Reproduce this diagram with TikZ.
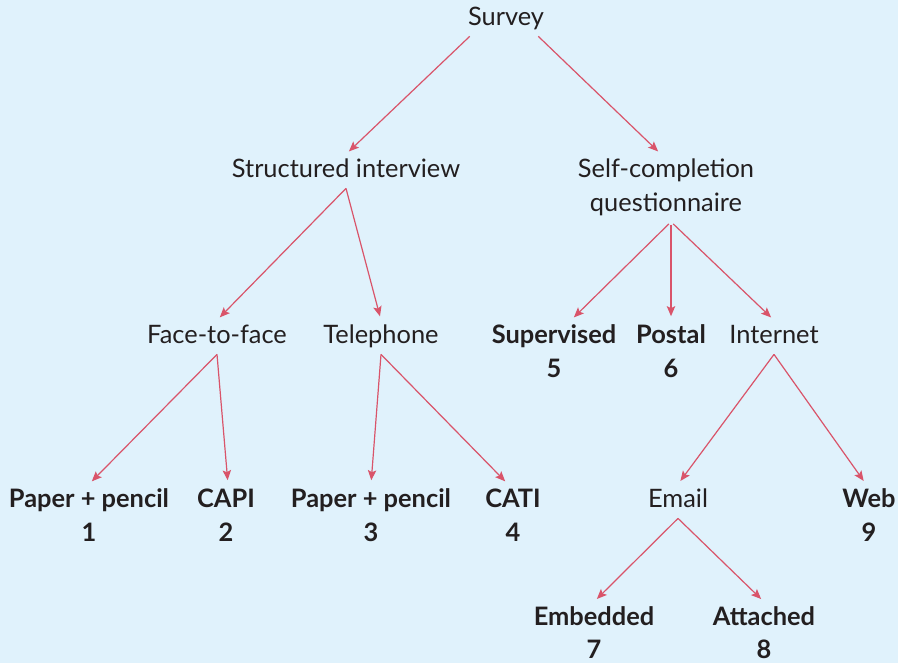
\documentclass[tikz,border=0pt]{standalone}
\usepackage{fontspec}
\setmainfont{Lato}
\usepackage{xcolor}
\usetikzlibrary{arrows.meta, positioning}

\definecolor{skyback}{HTML}{E0F2FC}
\definecolor{linkred}{HTML}{D9546A}
\definecolor{inkdark}{HTML}{231F20}

\begin{document}
\begin{tikzpicture}[on grid,
    box/.style={inner sep=0pt, align=center, text=inkdark, font=\fontsize{12.7}{16.7}\selectfont},
    leaf/.style={box, font=\fontsize{12.7}{16.7}\selectfont\bfseries},
    link/.style={draw=linkred, line width=0.6pt, -{Stealth[length=5pt,width=4.2pt,inset=1pt]}, shorten >=2pt}]

    \useasboundingbox (0,0) rectangle (449pt,-331.5pt);
    \fill[skyback] (0,0) rectangle (449pt,-331.5pt);

    % Nodes
    \node (survey) [box] at (253pt,-9.65pt) {\strut Survey};
    \node (struct) [box, below left=76pt and 80pt of survey] {\strut Structured interview};
    \node (self) [box, below right=84.35pt and 80pt of survey] {\strut Self-completion\\questionnaire\strut};

    \node (face) [box, below left=83pt and 64.5pt of struct] {\strut Face-to-face};
    \node (tele) [box, below right=83pt and 17.5pt of struct] {\strut Telephone};
    \node (sup) [leaf, below left=83pt and 56pt of self] {\strut Supervised\\5\strut};
    \node (postal) [leaf, below right=83pt and 2.5pt of self] {\strut Postal\\6\strut};
    \node (internet) [box, below right=74.65pt and 54pt of self] {\strut Internet};

    \node (pp1) [leaf, below left=90.35pt and 64pt of face] {\strut Paper + pencil\\1\strut};
    \node (capi) [leaf, below right=90.35pt and 4.5pt of face] {\strut CAPI\\2\strut};
    \node (pp3) [leaf, below left=90.35pt and 5pt of tele] {\strut Paper + pencil\\3\strut};
    \node (cati) [leaf, below right=90.35pt and 66pt of tele] {\strut CATI\\4\strut};
    \node (email) [box, below left=82pt and 48pt of internet] {\strut Email};
    \node (web) [leaf, below right=90.35pt and 47.5pt of internet] {\strut Web\\9\strut};

    \node (emb) [leaf, below left=67.15pt and 42pt of email] {\strut Embedded\\7\strut};
    \node (att) [leaf, below right=67.15pt and 43pt of email] {\strut Attached\\8\strut};

    % Edges
    \draw[link] ([xshift=1pt]survey.south west) -- (struct.north);
    \draw[link] ([xshift=-3pt]survey.south east) -- ([xshift=-2.5pt]self.north);
    \draw[link] (struct.south) -- (face.north);
    \draw[link] (struct.south) -- (tele.north);
    \draw[link, shorten <=1.5pt] ([xshift=2.5pt]self.south) -- ([xshift=8.5pt]sup.north);
    \draw[link, shorten <=1.5pt] ([xshift=2.5pt]self.south) -- (postal.north);
    \draw[link, shorten <=1.5pt] ([xshift=2.5pt]self.south) -- (internet.north);
    \draw[link] (face.south) -- (pp1.north);
    \draw[link] (face.south) -- ([xshift=1pt]capi.north);
    \draw[link] (tele.south) -- (pp3.north);
    \draw[link] (tele.south) -- ([xshift=-2.5pt]cati.north);
    \draw[link] (internet.south) -- (email.north);
    \draw[link] (internet.south) -- ([xshift=-1.5pt]web.north);
    \draw[link] (email.south) -- (emb.north);
    \draw[link] (email.south) -- (att.north);
\end{tikzpicture}
\end{document}
